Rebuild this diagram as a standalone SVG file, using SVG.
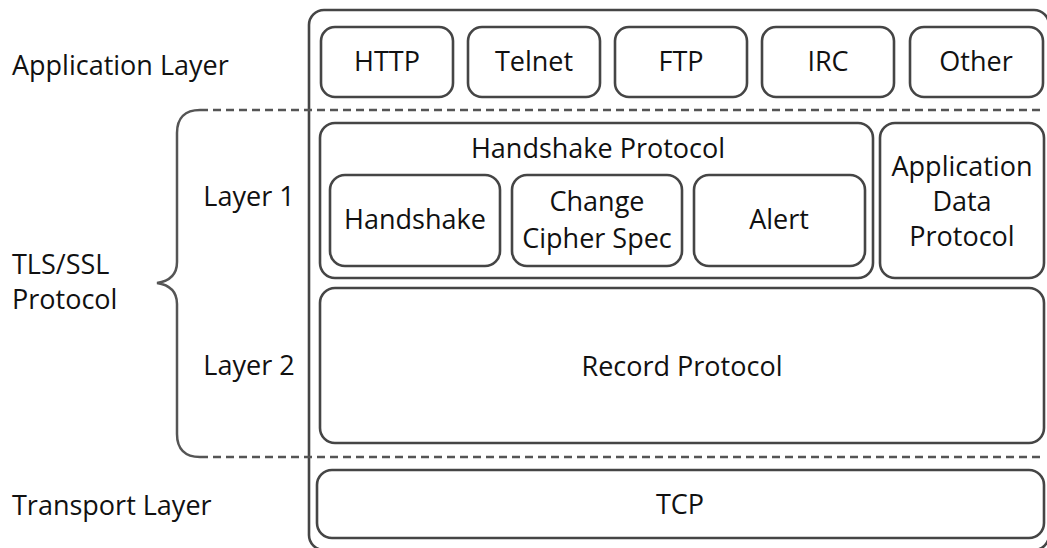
<svg xmlns="http://www.w3.org/2000/svg" width="1047" height="548" viewBox="0 0 1047 548">
<style>
.box{fill:none;stroke:#454545;stroke-width:2.6}
.dash{fill:none;stroke:#555;stroke-width:2.5;stroke-dasharray:8 5}
.brace{fill:none;stroke:#555;stroke-width:2.5}
text{font-family:"Open Sans","Liberation Sans",sans-serif;font-size:27px;fill:#111}
.c{text-anchor:middle}
</style>
<rect width="1047" height="548" fill="#fff"/>
<g id="frame"><rect class="box" x="309" y="10" width="740" height="540" rx="15"/></g>
<g id="connectors">
<path class="dash" d="M200 110 H1045"/>
<path class="dash" d="M200 457 H1045"/>
<path class="brace" d="M200 110 C185 110 177 118 177 133 L177 262 C177 275 170 281 157 283 C170 285 177 291 177 304 L177 434 C177 449 185 457 200 457"/>
</g>
<g id="labels">
<text x="12" y="75">Application Layer</text>
<text x="12" y="274">TLS/SSL</text>
<text x="12" y="309">Protocol</text>
<text x="249" y="206" class="c">Layer 1</text>
<text x="249" y="375" class="c">Layer 2</text>
<text x="12" y="515">Transport Layer</text>
</g>
<g id="http"><rect class="box" x="321" y="27" width="132" height="70" rx="14"/><text x="387" y="71" class="c">HTTP</text></g>
<g id="telnet"><rect class="box" x="468" y="27" width="132" height="70" rx="14"/><text x="534" y="71" class="c">Telnet</text></g>
<g id="ftp"><rect class="box" x="615" y="27" width="132" height="70" rx="14"/><text x="681" y="71" class="c">FTP</text></g>
<g id="irc"><rect class="box" x="762" y="27" width="132" height="70" rx="14"/><text x="828" y="71" class="c">IRC</text></g>
<g id="other"><rect class="box" x="910" y="27" width="133" height="70" rx="14"/><text x="976" y="71" class="c">Other</text></g>
<g id="handshake-protocol"><rect class="box" x="320" y="123" width="553" height="155" rx="15"/><text x="598" y="158" class="c">Handshake Protocol</text></g>
<g id="handshake"><rect class="box" x="330" y="175" width="170" height="91" rx="15"/><text x="415" y="229" class="c">Handshake</text></g>
<g id="ccs"><rect class="box" x="512" y="175" width="170" height="91" rx="15"/><text x="597" y="211" class="c">Change</text><text x="597" y="248" class="c">Cipher Spec</text></g>
<g id="alert"><rect class="box" x="694" y="175" width="171" height="91" rx="15"/><text x="779" y="229" class="c">Alert</text></g>
<g id="app-data"><rect class="box" x="880" y="123" width="164" height="155" rx="15"/><text x="962" y="176" class="c">Application</text><text x="962" y="211" class="c">Data</text><text x="962" y="246" class="c">Protocol</text></g>
<g id="record"><rect class="box" x="320" y="288" width="724" height="155" rx="15"/><text x="682" y="376" class="c">Record Protocol</text></g>
<g id="tcp"><rect class="box" x="317" y="470" width="727" height="68" rx="15"/><text x="680" y="514" class="c">TCP</text></g>
</svg>
